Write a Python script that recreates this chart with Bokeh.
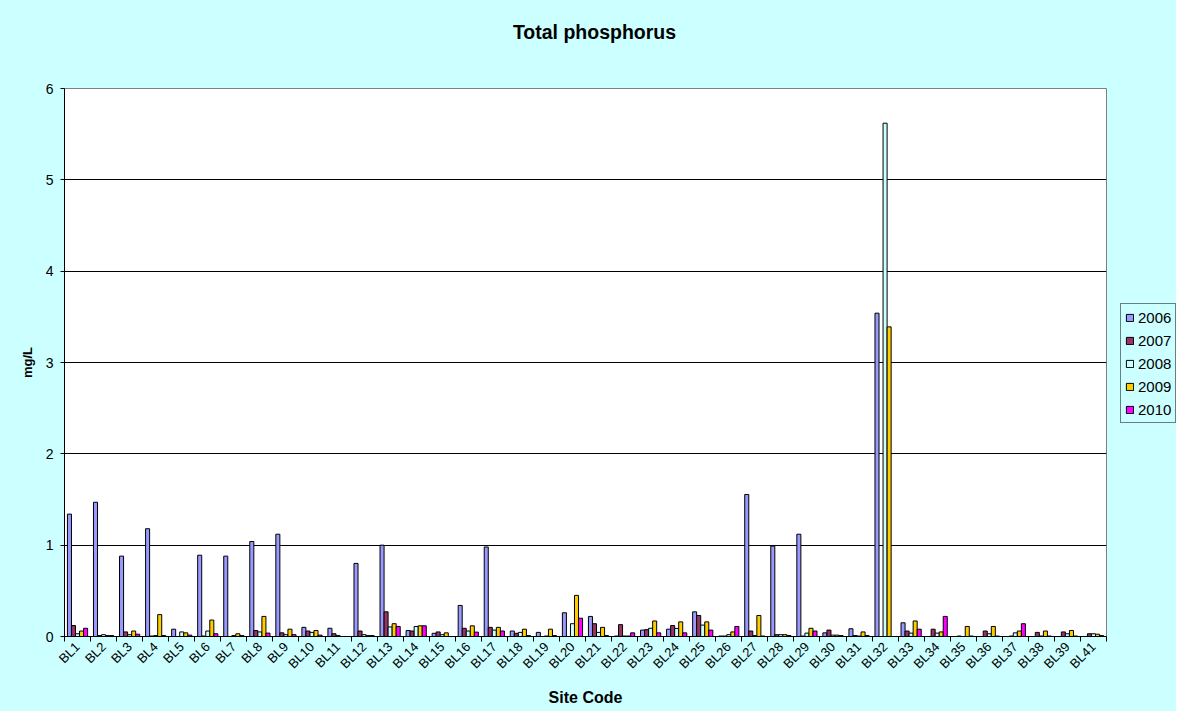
import math
from bokeh.plotting import figure
from bokeh.layouts import column, row
from bokeh.models import (ColumnDataSource, Range1d, FixedTicker, Legend, LegendItem, Label)
from bokeh.transform import dodge
from bokeh.embed import file_html
from bokeh.resources import INLINE

sites = ["BL1", "BL2", "BL3", "BL4", "BL5", "BL6", "BL7", "BL8", "BL9", "BL10",
         "BL11", "BL12", "BL13", "BL14", "BL15", "BL16", "BL17", "BL18", "BL19", "BL20",
         "BL21", "BL22", "BL23", "BL24", "BL25", "BL26", "BL27", "BL28", "BL29", "BL30",
         "BL31", "BL32", "BL33", "BL34", "BL35", "BL36", "BL37", "BL38", "BL39", "BL41"]

y2006 = [1.34, 1.47, 0.88, 1.18, 0.08, 0.89, 0.88, 1.04, 1.12, 0.10,
         0.09, 0.80, 1.00, 0.065, 0.035, 0.34, 0.98, 0.06, 0.045, 0.26,
         0.22, 0.005, 0.07, 0.08, 0.27, 0.005, 1.555, 0.99, 1.12, 0.04,
         0.085, 3.54, 0.15, 0, 0, 0, 0, 0, 0, 0]
y2007 = [0.12, 0.01, 0.05, 0.005, 0, 0.005, 0, 0.065, 0.04, 0.06,
         0.03, 0.06, 0.27, 0.06, 0.05, 0.09, 0.10, 0.035, 0, 0,
         0.14, 0.13, 0.075, 0.12, 0.23, 0.005, 0.06, 0.02, 0.005, 0.07,
         0.01, 0, 0.06, 0.08, 0.005, 0.06, 0.005, 0.045, 0.05, 0.03]
y2008 = [0.03, 0.02, 0.02, 0.01, 0.05, 0.06, 0.01, 0.05, 0.02, 0.045,
         0.01, 0.02, 0.105, 0.11, 0.02, 0.06, 0.07, 0.045, 0.005, 0.14,
         0.045, 0.005, 0.09, 0.088, 0.125, 0.02, 0.01, 0.02, 0.037, 0.015,
         0.005, 5.62, 0.037, 0.037, 0, 0.03, 0.04, 0.005, 0.03, 0.03]
y2009 = [0.06, 0.01, 0.06, 0.24, 0.04, 0.18, 0.03, 0.22, 0.08, 0.066,
         0, 0.01, 0.14, 0.117, 0.04, 0.117, 0.10, 0.08, 0.08, 0.45,
         0.10, 0.005, 0.17, 0.16, 0.16, 0.05, 0.23, 0.02, 0.09, 0.015,
         0.05, 3.39, 0.17, 0.05, 0.11, 0.11, 0.06, 0.06, 0.066, 0.025]
y2010 = [0.09, 0.01, 0.025, 0.01, 0.015, 0.03, 0.01, 0.037, 0.02, 0.015,
         0, 0.01, 0.11, 0.117, 0, 0.048, 0.06, 0.01, 0.01, 0.20,
         0.01, 0.04, 0.04, 0.04, 0.07, 0.11, 0.005, 0.01, 0.06, 0.01,
         0.01, 0, 0.08, 0.22, 0.005, 0.005, 0.14, 0.005, 0.005, 0.01]

years = ["2006", "2007", "2008", "2009", "2010"]
colors = ["#9999FF", "#993366", "#CCFFFF", "#FFCC00", "#FF00FF"]
series = [y2006, y2007, y2008, y2009, y2010]
title_text = "Total phosphorus"

FONT = "Liberation Sans"
BG = "#CCFFFF"
n = len(sites)
centers = [i + 0.5 for i in range(n)]
bounds = [float(i) for i in range(n + 1)]

TOTAL_W, TOTAL_H = 1176, 711
TITLE_H = 60
LEG_W = 60
MAIN_W = TOTAL_W - LEG_W
MAIN_H = TOTAL_H - TITLE_H


def blank_fig(w, h):
    f = figure(width=w, height=h, output_backend="svg", toolbar_location=None,
               x_range=Range1d(0, w), y_range=Range1d(0, h),
               min_border=0, min_border_left=0, min_border_right=0,
               min_border_top=0, min_border_bottom=0)
    f.axis.visible = False
    f.grid.visible = False
    f.outline_line_color = None
    f.background_fill_color = BG
    f.border_fill_color = BG
    return f


# ---- title strip ----
tfig = blank_fig(TOTAL_W, TITLE_H)
tfig.add_layout(Label(x=594, y=29, text=title_text, text_font=FONT, text_font_style="bold",
                      text_font_size="19.5px", text_align="center", text_baseline="middle",
                      text_color="black"))

# ---- main chart ----
src = ColumnDataSource(dict(x=centers, **{"y" + yr: s for yr, s in zip(years, series)}))

p = figure(width=MAIN_W, height=MAIN_H, output_backend="svg", toolbar_location=None,
           x_range=Range1d(0, n), y_range=Range1d(0, 6),
           min_border_left=64, min_border_right=10, min_border_top=28, min_border_bottom=75)
p.border_fill_color = BG
p.background_fill_color = "white"
p.outline_line_color = "#808080"
p.outline_line_width = 1

bw = 0.155
for k, (yr, col) in enumerate(zip(years, colors)):
    p.vbar(x=dodge("x", (k - 2) * bw, range=p.x_range), top="y" + yr, width=bw,
           bottom=0, source=src, fill_color=col, line_color="black", line_width=1)

p.yaxis.ticker = FixedTicker(ticks=[0, 1, 2, 3, 4, 5, 6])
p.yaxis.major_label_text_font = FONT
p.yaxis.major_label_text_font_size = "14px"
p.yaxis.major_label_text_color = "black"
p.yaxis.axis_line_color = "black"
p.yaxis.major_tick_line_color = "black"
p.yaxis.major_tick_out = 4
p.yaxis.major_tick_in = 0
p.yaxis.minor_tick_line_color = None
p.yaxis.major_label_standoff = 7
p.yaxis.axis_label = "mg/L"
p.yaxis.axis_label_text_font = FONT
p.yaxis.axis_label_text_font_style = "bold"
p.yaxis.axis_label_text_font_size = "13px"
p.yaxis.axis_label_text_color = "black"
p.yaxis.axis_label_standoff = 8
p.ygrid.grid_line_color = "black"
p.ygrid.grid_line_width = 1

p.xaxis.ticker = FixedTicker(ticks=centers, minor_ticks=bounds)
p.xaxis.major_label_overrides = {c: s for c, s in zip(centers, sites)}
p.xaxis.major_label_orientation = math.pi / 4
p.xaxis.major_label_text_font = FONT
p.xaxis.major_label_text_font_size = "13px"
p.xaxis.major_label_text_color = "black"
p.xaxis.major_tick_line_color = None
p.xaxis.major_tick_out = 5
p.xaxis.minor_tick_line_color = "black"
p.xaxis.minor_tick_out = 5
p.xaxis.minor_tick_in = 0
p.xaxis.major_label_standoff = 3
p.xaxis.axis_line_color = "black"
p.xaxis.axis_label = "Site Code"
p.xaxis.axis_label_text_font = FONT
p.xaxis.axis_label_text_font_style = "bold"
p.xaxis.axis_label_text_font_size = "16px"
p.xaxis.axis_label_text_color = "black"
p.xaxis.axis_label_standoff = 9
p.xgrid.grid_line_color = None

# ---- legend strip ----
lfig = blank_fig(LEG_W, MAIN_H)
items = []
for yr, col in zip(years, colors):
    r = lfig.vbar(x=[0.0], top=[float("nan")], width=1, fill_color=col,
                  line_color="black", line_width=1)
    items.append(LegendItem(label=yr, renderers=[r], index=0))
legend = Legend(items=items, location=(4, 213), border_line_color="black",
                border_line_width=1, background_fill_color=BG, background_fill_alpha=1.0,
                label_text_font=FONT, label_text_font_size="15px", label_text_color="black",
                glyph_width=9, glyph_height=9, label_height=18, label_width=33,
                spacing=5, padding=4, margin=0, label_standoff=4)
lfig.add_layout(legend)

layout = column(tfig, row(p, lfig, spacing=0, styles={"background-color": BG}),
                spacing=0, styles={"background-color": BG})
open("out.html", "w").write(file_html(layout, INLINE))
